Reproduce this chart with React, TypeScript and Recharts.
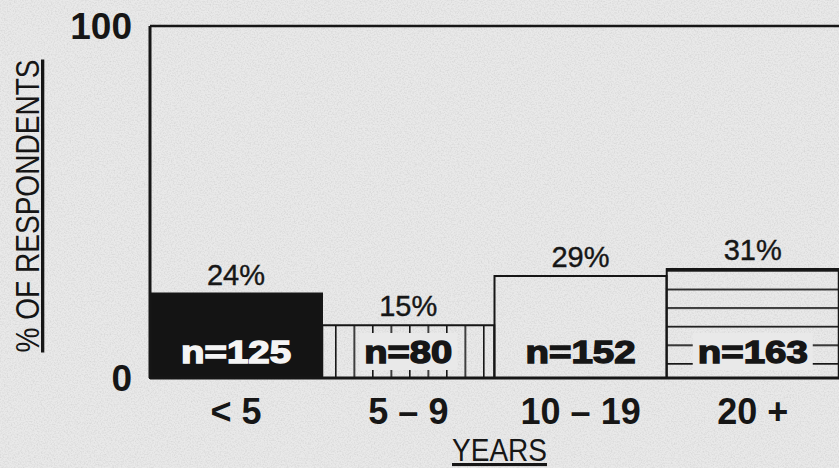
import React from 'react';
import { BarChart, Bar, XAxis, YAxis, Cell, LabelList, ReferenceLine } from 'recharts';

// ---- data ----
const categories = ['< 5', '5 – 9', '10 – 19', '20 +'];
const percents = [24, 15, 29, 31];
const counts = [125, 80, 152, 163];
const yTicks = [0, 100];
const yAxisTitle = '% OF RESPONDENTS';
const xAxisTitle = 'YEARS';

const data = categories.map((c, i) => ({ category: c, pct: percents[i], n: counts[i] }));

// ---- styles ----
const W = 839;
const H = 468;
const BG = '#e9e9e9';
const INK = '#161616';
const SANS = "'Liberation Sans', Arial, sans-serif";
const barFills = ['#141414', 'url(#vstripes)', 'none', 'url(#hstripes)'];
const nTextFill = ['#f4f4f4', INK, INK, INK];
const nHasBox = [false, true, false, true];

const YTitle = (props: any) => {
  const vb = props.viewBox || { x: 0, y: 26, width: 150, height: 352 };
  const cx = 39;
  const cy = vb.y + vb.height / 2 + 4;
  return (
    <text
      x={cx}
      y={cy}
      transform={`rotate(-90, ${cx}, ${cy})`}
      textAnchor="middle"
      fontFamily={SANS}
      fontSize={33}
      textLength={293}
      lengthAdjust="spacingAndGlyphs"
      fill={INK}
      style={{ textDecoration: 'underline' }}
    >
      {yAxisTitle}
    </text>
  );
};

const XTitle = (props: any) => {
  const vb = props.viewBox || { x: 150, y: 378, width: 689, height: 90 };
  const cx = vb.x + vb.width / 2 + 5;
  return (
    <text
      x={cx}
      y={461}
      textAnchor="middle"
      fontFamily={SANS}
      fontSize={31}
      textLength={95}
      lengthAdjust="spacingAndGlyphs"
      fill={INK}
      style={{ textDecoration: 'underline' }}
    >
      {xAxisTitle}
    </text>
  );
};

const NLabel = (props: any) => {
  const { x, y, width, height, index, value } = props;
  const cx = x + width / 2;
  const bottom = y + height;
  const label = `n=${value}`;
  const tw = label.length * 22;
  return (
    <g>
      {nHasBox[index] && (
        <rect x={cx - tw / 2 - 5} y={bottom - 45} width={tw + 10} height={37} fill={BG} />
      )}
      <text
        x={cx}
        y={bottom - 15}
        textAnchor="middle"
        fontFamily={SANS}
        fontWeight={700}
        fontSize={31}
        textLength={tw}
        lengthAdjust="spacingAndGlyphs"
        fill={nTextFill[index]}
        stroke={nTextFill[index]}
        strokeWidth={1.4}
      >
        {label}
      </text>
    </g>
  );
};

export default function App() {
  return (
    <div style={{ position: 'absolute', left: 0, top: 0, width: W, height: H, background: BG, overflow: 'hidden' }}>
      <svg width={W} height={H} style={{ position: 'absolute', left: 0, top: 0 }}>
        <filter id="paper" x="0" y="0" width="100%" height="100%">
          <feTurbulence type="fractalNoise" baseFrequency="0.7" numOctaves={2} seed={7} />
          <feColorMatrix
            type="matrix"
            values="0 0 0 0 0.4  0 0 0 0 0.4  0 0 0 0 0.4  0.6 0 0 0 -0.24"
          />
        </filter>
        <rect x={0} y={0} width={W} height={H} fill={BG} />
        <rect x={0} y={0} width={W} height={H} filter="url(#paper)" />
      </svg>
      <div style={{ position: 'absolute', left: 0, top: 0 }}>
        <BarChart
          width={W}
          height={H}
          data={data}
          margin={{ top: 26, right: 0, left: 0, bottom: 0 }}
          barCategoryGap={0}
          barGap={0}
        >
          <defs>
            <pattern id="vstripes" patternUnits="userSpaceOnUse" x={335} y={0} width={18.5} height={10}>
              <line x1={0.8} y1={0} x2={0.8} y2={10} stroke={INK} strokeWidth={1.6} />
            </pattern>
            <pattern id="hstripes" patternUnits="userSpaceOnUse" x={0} y={270} width={10} height={18.6}>
              <line x1={0} y1={0.8} x2={10} y2={0.8} stroke={INK} strokeWidth={1.8} />
            </pattern>
          </defs>
          <XAxis
            dataKey="category"
            height={90}
            axisLine={{ stroke: INK, strokeWidth: 3 }}
            tickLine={false}
            tickSize={6}
            tickMargin={14}
            interval={0}
            tick={{ fontFamily: SANS, fontWeight: 700, fontSize: 36, fill: INK }}
            label={<XTitle />}
          />
          <YAxis
            width={150}
            domain={[0, 100]}
            ticks={yTicks}
            axisLine={{ stroke: INK, strokeWidth: 3 }}
            tickLine={false}
            tickSize={6}
            tickMargin={12}
            tick={{ fontFamily: SANS, fontWeight: 700, fontSize: 37, fill: INK }}
            label={<YTitle />}
          />
          <ReferenceLine y={100} stroke={INK} strokeWidth={2.5} />
          <Bar dataKey="pct" isAnimationActive={false} stroke={INK} strokeWidth={2}>
            {data.map((d, i) => (
              <Cell key={d.category} fill={barFills[i]} />
            ))}
            <LabelList
              dataKey="pct"
              position="top"
              offset={9}
              formatter={(v: any) => `${v}%`}
              style={{ fontFamily: SANS, fontSize: 29, fill: INK, stroke: INK, strokeWidth: 0.4 }}
            />
            <LabelList dataKey="n" content={<NLabel />} />
          </Bar>
        </BarChart>
      </div>
    </div>
  );
}
